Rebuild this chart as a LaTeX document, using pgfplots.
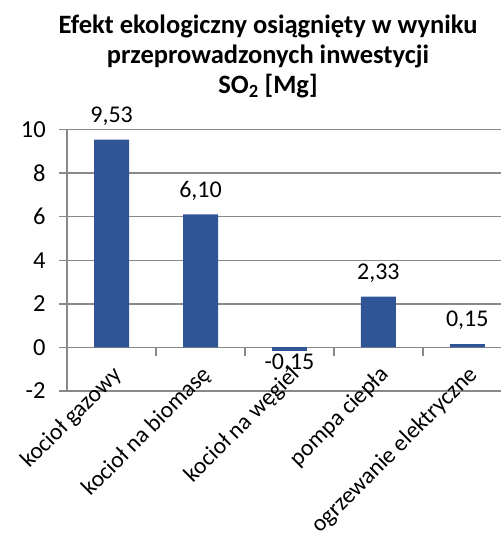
\documentclass[border=0pt]{standalone}
\usepackage{fontspec}
\setmainfont{Carlito}
\usepackage{pgfplots}
\pgfplotsset{compat=1.18}
\definecolor{barblue}{HTML}{2F5597}
\definecolor{gridgray}{HTML}{898989}
\begin{document}
\begin{tikzpicture}
\begin{axis}[
    name=ax,
    scale only axis,
    width=444.5pt, height=261.5pt,
    xmin=0.5, xmax=5.5,
    ymin=-2, ymax=10,
    ytick={-2,0,...,10},
    xtick={1,2,3,4,5},
    xticklabels={kocioł gazowy, kocioł na biomasę, kocioł na węgiel, pompa ciepła, ogrzewanie elektryczne},
    xticklabel style={xshift=9pt, yshift=30pt, rotate=45, anchor=east, font=\fontsize{23.5}{27}\selectfont},
    yticklabel style={xshift=-10pt, font=\fontsize{24.5}{28}\selectfont},
    /pgf/number format/assume math mode=true,
    axis x line*=bottom,
    axis y line*=left,
    x axis line style={draw=none},
    y axis line style={draw=gridgray, line width=1.5pt, -},
    xtick style={draw=none},
    ytick style={draw=gridgray, line width=1.5pt},
    tick align=outside,
    major tick length=8pt,
    ymajorgrids=true,
    grid style={draw=gridgray, line width=1.5pt},
    title={Efekt ekologiczny osiągnięty w wyniku\\przeprowadzonych inwestycji\\SO\textsubscript{2} [Mg]},
    title style={at={(0.4518,1)}, anchor=south, align=center, yshift=22pt,
        font=\bfseries\fontsize{26.5}{30}\selectfont},
    ybar,
    bar width=35pt,
    bar shift=0pt,
    nodes near coords={\pgfmathprintnumber[fixed,fixed zerofill,precision=2,use comma]{\pgfplotspointmeta}},
    clip=false,
]
% positive values, labels above the bars
\addplot[fill=barblue, draw=none,
    every node near coord/.append style={anchor=south, font=\fontsize{24}{28}\selectfont, inner sep=9pt, yshift=5pt}]
    coordinates {(1,9.53) (2,6.10) (4,2.33) (5,0.15)};
% negative value, label below the bar
\addplot[fill=barblue, draw=none,
    every node near coord/.append style={anchor=north, font=\fontsize{24}{28}\selectfont, inner sep=3pt}]
    coordinates {(3,-0.15)};
% category boundary ticks on the zero line
\pgfplotsinvokeforeach{1.5,2.5,3.5,4.5}{
    \draw[gridgray, line width=1.5pt] (axis cs:#1,0) -- (axis cs:#1,-0.39);
}
\end{axis}
% frame of the reference picture: the plot runs past the right edge
% and the long label is cut at the bottom there
\pgfresetboundingbox
\path[use as bounding box] ([shift={(-67.2pt,-147pt)}]ax.south west)
    rectangle ([shift={(-11.5pt,129.5pt)}]ax.north east);
\end{tikzpicture}
\end{document}
